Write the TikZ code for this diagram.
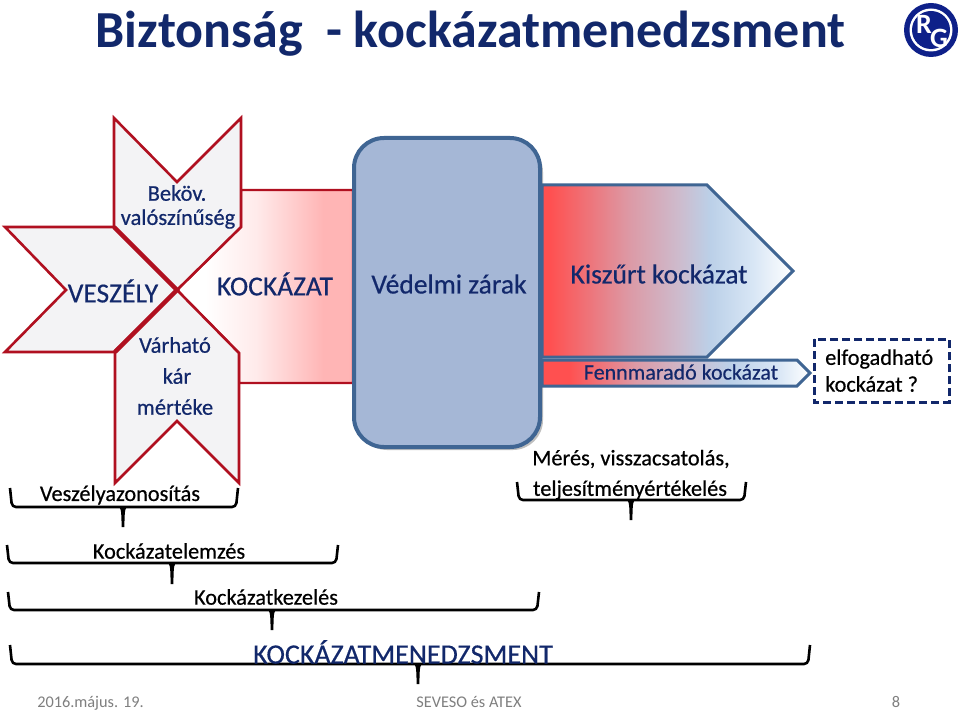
\documentclass[tikz,border=0pt]{standalone}
\usepackage{fontspec}
\setmainfont{Carlito}
\newfontfamily\semib[FakeBold=0.5]{Carlito}
\pgfdeclarehorizontalshading{kockshade}{100bp}{color(0bp)=(white); color(33bp)=(white); color(47.5bp)=(red!8!white); color(66.5bp)=(red!29!white); color(100bp)=(red!30!white)}
\definecolor{ka}{HTML}{FF5050}
\definecolor{kb}{HTML}{DC9AA6}
\definecolor{kc}{HTML}{CDBCCE}
\definecolor{kd}{HTML}{BBD0E8}
\definecolor{ke}{HTML}{D8E6F5}
\pgfdeclarehorizontalshading{kiszurt}{100bp}{color(0bp)=(ka); color(26.5bp)=(ka); color(42.5bp)=(kb); color(52.5bp)=(kc); color(58.5bp)=(kd); color(67bp)=(ke); color(75bp)=(white); color(100bp)=(white)}
\pgfdeclarehorizontalshading{fennm}{100bp}{color(0bp)=(ka); color(30bp)=(ka); color(42.5bp)=(kb); color(52.5bp)=(kc); color(60bp)=(kd); color(69bp)=(ke); color(75bp)=(white); color(100bp)=(white)}
\definecolor{navy}{HTML}{12286B}
\definecolor{darkred}{HTML}{B01020}
\definecolor{steel}{HTML}{3F6593}
\definecolor{zar}{HTML}{A5B7D6}
\definecolor{star}{HTML}{F3F3F5}
\definecolor{foot}{HTML}{7F7F7F}
\tikzset{
  x=1pt,y=-1pt,
  starshape/.style={draw=darkred,line width=2.6pt,fill=star,line join=miter},
  lbl/.style={text=navy,align=center,inner sep=0pt,font=\semib\fontsize{#1}{#1}\selectfont},
  lbl/.default=27.5,
  blk/.style={text=black,inner sep=0pt,font=\semib\fontsize{22.3}{22.3}\selectfont},
  bracepath/.style={draw=black,line width=2.6pt,rounded corners=4pt},
  tippath/.style={fill=black},
  footer/.style={text=foot,inner sep=0pt,anchor=base,font=\fontsize{16.3}{16.3}\selectfont},
}
\newcommand{\bracket}[6]{% left right top bottom tipx tipbottom
  \draw[bracepath] (#1,#3) -- (#1+2,#4) -- (#2-2,#4) -- (#2,#3);
  \fill[tippath] (#5-5,#4) .. controls (#5-2,#4) and (#5-1.6,#4+3) .. (#5-1.4,#6) -- (#5+1.4,#6) .. controls (#5+1.6,#4+3) and (#5+2,#4) .. (#5+5,#4) -- cycle;
}
\begin{document}
\begin{tikzpicture}
\useasboundingbox (0,0) rectangle (960,711);
\fill[white] (0,0) rectangle (960,711);
% title
\node[text=navy,inner sep=0pt,font=\fontsize{52}{52}\selectfont\bfseries] (title) at (470.5,33.5) {Biztonság\ \ - kockázatmenedzsment};
% logo
\fill[navy!80!blue] (931,30) circle (27);
\fill[white] (931,30) circle (21.5);
\fill[navy!80!blue] (931,30) circle (19);
\node[text=white,inner sep=0pt,font=\fontsize{28}{28}\selectfont\bfseries] (logoR) at (924,24) {R};
\node[text=white,inner sep=0pt,font=\fontsize{28}{28}\selectfont\bfseries] (logoG) at (939,38) {G};
% kockazat flow
\draw[draw=darkred,line width=2.2pt,shading=kockshade] (241,190) -- (353,190) -- (353,383) -- (239,383) -- (239,353) -- (177,290) -- (241,227) -- cycle;
% star arms
\draw[starshape] (114,118) -- (177,182) -- (241,118) -- (241,227) -- (177,290) -- (114,227) -- cycle;
\draw[starshape] (115,352) -- (177,290) -- (239,353) -- (239,483) -- (177,421) -- (115,483) -- cycle;
\draw[starshape] (5,227) -- (114,227) -- (177,290) -- (114,352) -- (5,352) -- (66,290) -- cycle;
\draw[draw=darkred,line width=4.5pt] (114,227) -- (177,290) -- (115,352);
% barrier
\fill[black!25,rounded corners=30pt] (357,142) rectangle (543,450);
\draw[draw=steel,line width=4pt,fill=zar,rounded corners=30pt] (354,138) rectangle (540,447);
% residual arrows
\draw[draw=steel,line width=3pt,shading=kiszurt,line join=miter] (542,185) -- (707,185) -- (793,271) -- (707,357) -- (542,357) -- cycle;
\draw[draw=steel,line width=3pt,shading=fennm,line join=miter] (542,360) -- (797,360) -- (810,373) -- (797,386) -- (542,386) -- cycle;
% dashed box
\draw[draw=navy,line width=3pt,dash pattern=on 8pt off 4pt] (814,339) rectangle (949,402);
% brackets
\bracket{10}{238}{488}{507}{123}{527}
\bracket{517}{746}{482}{500}{631}{520}
\bracket{7}{338}{545}{563}{172}{584}
\bracket{8}{539}{592}{610}{272}{630}
\bracket{10}{810}{645}{664}{418}{684}
% labels
\node[lbl=22.5] (bekov) at (177,193) {Beköv.};
\node[lbl=22.5] (valo) at (178,219) {valószínűség};
\node[lbl] (veszely) at (113,291) {VESZÉLY};
\node[lbl] (kockazat) at (275,284) {KOCKÁZAT};
\node[lbl=22.5] (varhato) at (175,345) {Várható};
\node[lbl=22.5] (kar) at (177,376) {kár};
\node[lbl=22.5] (mertek) at (175,407) {mértéke};
\node[lbl] (vedelmi) at (449,284) {Védelmi zárak};
\node[lbl] (kiszurtl) at (659,274) {Kiszűrt kockázat};
\node[lbl=22] (fenn) at (681,372) {Fennmaradó kockázat};
\node[blk,anchor=west] (elf) at (825,359) {elfogadható};
\node[blk,anchor=west] (elf2) at (825,384) {kockázat ?};
\node[blk] (vesz) at (120,495) {Veszélyazonosítás};
\node[blk] (meres) at (631,459) {Mérés, visszacsatolás,};
\node[blk] (telj) at (630,490) {teljesítményértékelés};
\node[blk] (elemz) at (169,551) {Kockázatelemzés};
\node[blk] (kezel) at (266,597) {Kockázatkezelés};
\node[lbl=28] (menedzs) at (403,652) {KOCKÁZATMENEDZSMENT};
% footer
\node[footer] (date) at (90.5,707) {2016.május. 19.};
\node[footer] (mid) at (469,707) {SEVESO és ATEX};
\node[footer] (num) at (896,707) {8};
\end{tikzpicture}
\end{document}
